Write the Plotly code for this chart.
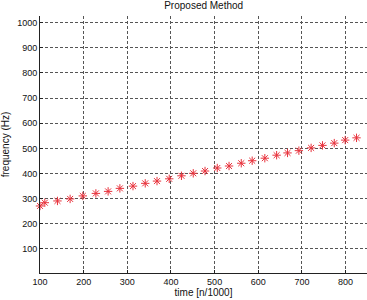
import plotly.graph_objects as go

time_vals = [100, 111, 140, 169, 198, 228, 256, 283, 313, 341, 368, 396, 424, 451,
             478, 506, 533, 561, 586, 615, 642, 667, 693, 721, 747, 774, 799, 825]
freq_vals = [271, 284, 291, 299, 311, 321, 329, 341, 350, 361, 370, 379, 391, 401,
             410, 422, 430, 441, 451, 461, 473, 482, 491, 502, 512, 521, 533, 542]
x_ticks = [100, 200, 300, 400, 500, 600, 700, 800]
y_ticks = [100, 200, 300, 400, 500, 600, 700, 800, 900, 1000]

fig = go.Figure()
fig.add_trace(go.Scatter(
    x=time_vals, y=freq_vals, mode="markers",
    marker=dict(symbol="asterisk-open", size=7, color="rgb(232,50,60)",
                line=dict(color="rgb(232,50,60)", width=1)),
    showlegend=False, cliponaxis=False,
))

FAM = "Liberation Sans, Arial, sans-serif"
font = dict(family=FAM, size=10, color="#111")
tickfont = dict(family=FAM, size=9, color="#111")
grid = dict(showgrid=True, gridcolor="#555", griddash="3px,2px", gridwidth=0.8,
            showline=True, linecolor="#222", linewidth=1, ticks="inside", ticklen=3,
            tickcolor="#222", zeroline=False, tickfont=tickfont)

fig.update_layout(
    width=367, height=300,
    margin=dict(l=40, r=0, t=16, b=27),
    paper_bgcolor="white", plot_bgcolor="white",
    font=font,
    title=dict(text="Proposed Method", x=0.555, xanchor="center", y=0.995, yanchor="top",
               font=font),
    xaxis=dict(range=[100, 849], tickvals=x_ticks, ticklabelstandoff=0,
               title=dict(text="time [n/1000]", standoff=1, font=font), **grid),
    yaxis=dict(range=[4.4, 1026.6], tickvals=y_ticks,
               title=dict(text="frequency (Hz)", standoff=6, font=font), **grid),
)

fig.write_html("out.html")
